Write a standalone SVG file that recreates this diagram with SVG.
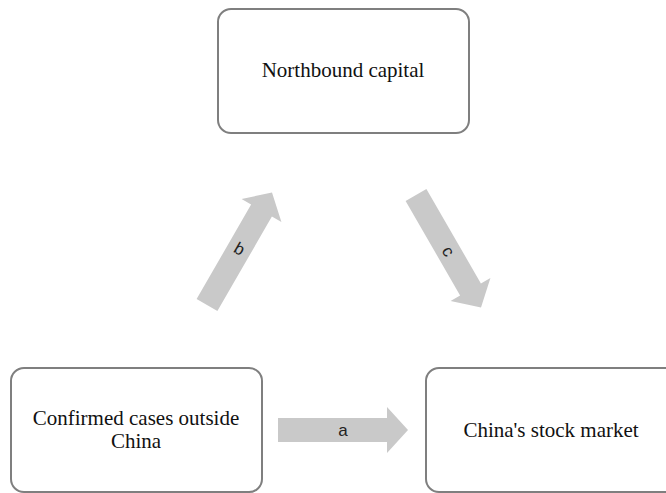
<svg xmlns="http://www.w3.org/2000/svg" width="666" height="493" viewBox="0 0 666 493">
  <style>
    .box { fill: #ffffff; stroke: #7f7f7f; stroke-width: 2; }
    .t { font-family: "Liberation Serif", "Times New Roman", serif; font-size: 21px; fill: #111111; text-anchor: middle; }
    .arr { fill: #c9c9c9; }
    .lbl { font-family: "Liberation Sans", Arial, sans-serif; font-size: 17px; fill: #222222; text-anchor: middle; }
  </style>
  <defs>
    <path id="fat" d="M0,-12 L109,-12 L109,-23 L130,0 L109,23 L109,12 L0,12 Z"/>
  </defs>
  <rect width="666" height="493" fill="#ffffff"/>
  <g id="connectors">
    <g id="arrow-a" transform="translate(278,430)">
      <use href="#fat" class="arr"/>
      <text class="lbl" x="65" y="6">a</text>
    </g>
    <g id="arrow-b" transform="translate(207,305) rotate(-60)">
      <use href="#fat" class="arr"/>
      <text class="lbl" transform="translate(65,0) rotate(90)" y="6">b</text>
    </g>
    <g id="arrow-c" transform="translate(416,195) rotate(60)">
      <use href="#fat" class="arr"/>
      <text class="lbl" x="65" y="6">c</text>
    </g>
  </g>
  <g id="node-northbound">
    <rect class="box" x="218" y="9" width="251" height="124" rx="13"/>
    <text class="t" x="343" y="77">Northbound capital</text>
  </g>
  <g id="node-confirmed">
    <rect class="box" x="11" y="368" width="251" height="124" rx="13"/>
    <text class="t" x="136" y="425">Confirmed cases outside</text>
    <text class="t" x="136" y="448">China</text>
  </g>
  <g id="node-market">
    <rect class="box" x="426" y="368" width="252" height="124" rx="13"/>
    <text class="t" x="551" y="437">China's stock market</text>
  </g>
</svg>
